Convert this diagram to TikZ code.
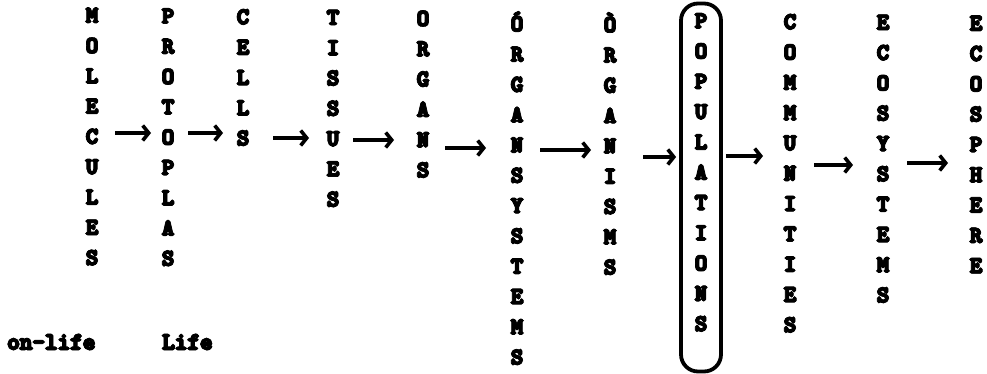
\documentclass[tikz,border=0pt]{standalone}
\usepackage{fontspec}
\usetikzlibrary{arrows.meta}
\newfontfamily\tw{lmmonolt10-bold.otf}[FakeBold=3]
\newcommand\hvy[1]{\leavevmode\rlap{\kern-0.8pt#1}\rlap{\kern0.8pt#1}\rlap{\raisebox{0.7pt}{#1}}\rlap{\raisebox{-0.7pt}{#1}}#1}
\newcommand\V[1]{\hvy{#1}\\}
\begin{document}
\begin{tikzpicture}[x=1pt,y=-1pt,
 col/.style={anchor=north, inner sep=0pt, align=center,
   font=\tw\fontsize{23}{30.3}\selectfont,
   execute at begin node=\rule{0pt}{24pt}},
 lab/.style={anchor=west, inner sep=0pt, font=\tw\fontsize{24}{24}\selectfont},
 arr/.style={line width=3.6pt, -{Straight Barb[length=6pt,width=15pt]}},
 box/.style={draw, line width=3.8pt, rounded corners=17pt, minimum width=40pt,
   minimum height=368pt, inner sep=0pt}]
\useasboundingbox (0,0) rectangle (987,374);
\node[box] (popbox) at (701,187.5) {};
\node[col] (mol) at (92,7.3) {\V M\V O\V L\V E\V C\V U\V L\V E\hvy{S}};
\node[col] (pro) at (168,8) {\V P\V R\V O\V T\V O\V P\V L\V A\hvy{S}};
\node[col] (cel) at (243,8.7) {\V C\V E\V L\V L\hvy{S}};
\node[col] (tis) at (333,9.5) {\V T\V I\V S\V S\V U\V E\hvy{S}};
\node[col] (org) at (423,10.3) {\V O\V R\V G\V A\V N\hvy{S}};
\node[col] (osy) at (517,11.1) {\V Ó\V R\V G\V A\V N\V S\V Y\V S\V T\V E\V M\hvy{S}};
\node[col] (ogm) at (610,12) {\V Ò\V R\V G\V A\V N\V I\V S\V M\hvy{S}};
\node[col] (pop) at (701,12.8) {\V P\V O\V P\V U\V L\V A\V T\V I\V O\V N\hvy{S}};
\node[col] (com) at (790,13.6) {\V C\V O\V M\V M\V U\V N\V I\V T\V I\V E\hvy{S}};
\node[col] (eco) at (883,14.4) {\V E\V C\V O\V S\V Y\V S\V T\V E\V M\hvy{S}};
\node[col] (esp) at (976,15.3) {\V E\V C\V O\V S\V P\V H\V E\V R\hvy{E}};
\node[lab] (nonlife) at (7,342) {\hvy{on-life}};
\node[lab] (life) at (162,342) {\hvy{Life}};
\coordinate (a1s) at (115,133); \coordinate (a1e) at (151,133);
\coordinate (a2s) at (188,133); \coordinate (a2e) at (223,133);
\coordinate (a3s) at (273,138); \coordinate (a3e) at (309,138);
\coordinate (a4s) at (353,140); \coordinate (a4e) at (394,140);
\coordinate (a5s) at (445,148); \coordinate (a5e) at (486,148);
\coordinate (a6s) at (540,150); \coordinate (a6e) at (591,150);
\coordinate (a7s) at (643,157);
\coordinate (a8e) at (763,156);
\coordinate (a9s) at (814,165); \coordinate (a9e) at (853,165);
\coordinate (a10s) at (907,163); \coordinate (a10e) at (948,163);
\draw[arr] (a1s) -- (a1e);
\draw[arr] (a2s) -- (a2e);
\draw[arr] (a3s) -- (a3e);
\draw[arr] (a4s) -- (a4e);
\draw[arr] (a5s) -- (a5e);
\draw[arr] (a6s) -- (a6e);
\draw[arr, shorten >=3pt] (a7s) -- (popbox.west |- a7s);
\draw[arr, shorten <=3pt] (popbox.east |- a8e) -- (a8e);
\draw[arr] (a9s) -- (a9e);
\draw[arr] (a10s) -- (a10e);
\end{tikzpicture}
\end{document}
